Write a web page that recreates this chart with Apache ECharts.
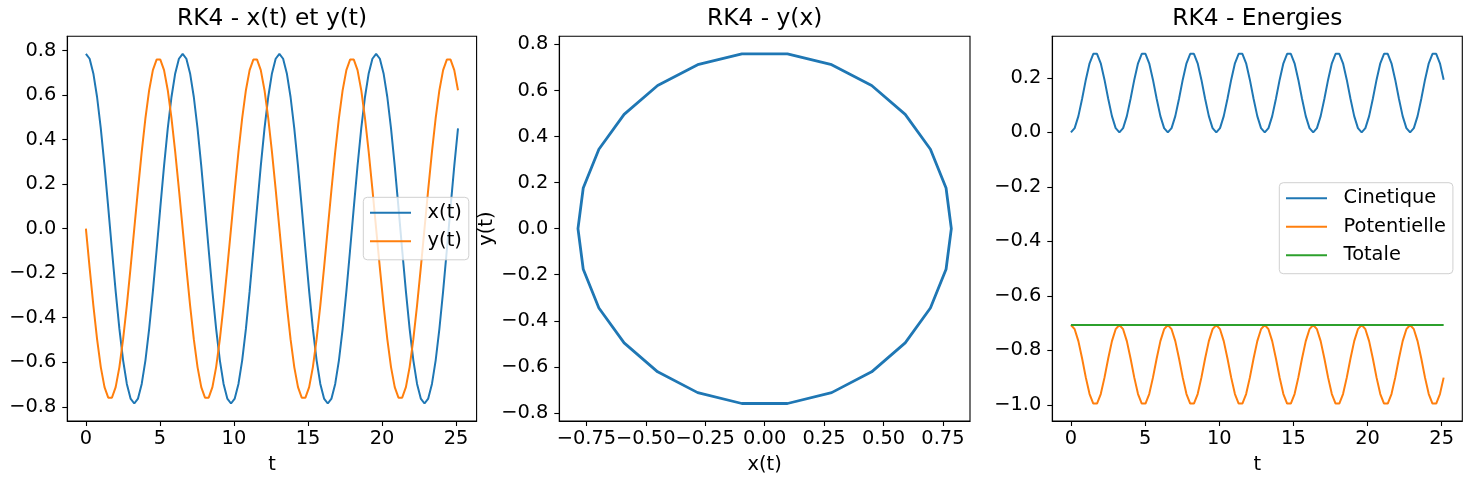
<!DOCTYPE html>
<html><head><meta charset="utf-8">
<script src="https://cdn.jsdelivr.net/npm/echarts@6/dist/echarts.min.js"></script>
<style>html,body{margin:0;padding:0;background:#fff}#c{width:1471px;height:484px}</style>
</head><body><div id="c"></div>
<script>
// time samples
const tVals = [
0, 0.2513, 0.5027, 0.7540, 1.0053, 1.2566, 1.5080, 1.7593, 2.0106, 2.2619, 2.5133, 2.7646, 3.0159, 3.2673, 3.5186, 3.7699, 4.0212, 4.2726, 4.5239, 4.7752, 5.0265, 5.2779, 5.5292, 5.7805, 6.0319, 6.2832,
6.5345, 6.7858, 7.0372, 7.2885, 7.5398, 7.7911, 8.0425, 8.2938, 8.5451, 8.7965, 9.0478, 9.2991, 9.5504, 9.8018, 10.0531, 10.3044, 10.5558, 10.8071, 11.0584, 11.3097, 11.5611, 11.8124, 12.0637, 12.3150, 12.5664, 12.8177,
13.0690, 13.3204, 13.5717, 13.8230, 14.0743, 14.3257, 14.5770, 14.8283, 15.0796, 15.3310, 15.5823, 15.8336, 16.0850, 16.3363, 16.5876, 16.8389, 17.0903, 17.3416, 17.5929, 17.8442, 18.0956, 18.3469, 18.5982, 18.8496, 19.1009, 19.3522,
19.6035, 19.8549, 20.1062, 20.3575, 20.6088, 20.8602, 21.1115, 21.3628, 21.6142, 21.8655, 22.1168, 22.3681, 22.6195, 22.8708, 23.1221, 23.3735, 23.6248, 23.8761, 24.1274, 24.3788, 24.6301, 24.8814, 25.1327
];
// x(t)
const xVals = [
0.7854, 0.7632, 0.6974, 0.5913, 0.4502, 0.2818, 0.0959, -0.0959, -0.2818, -0.4502, -0.5913, -0.6974, -0.7632, -0.7854, -0.7632, -0.6974, -0.5913, -0.4502, -0.2818, -0.0959, 0.0959, 0.2818, 0.4502, 0.5913, 0.6974, 0.7632,
0.7854, 0.7632, 0.6974, 0.5913, 0.4502, 0.2818, 0.0959, -0.0959, -0.2818, -0.4502, -0.5913, -0.6974, -0.7632, -0.7854, -0.7632, -0.6974, -0.5913, -0.4502, -0.2818, -0.0959, 0.0959, 0.2818, 0.4502, 0.5913, 0.6974, 0.7632,
0.7854, 0.7632, 0.6974, 0.5913, 0.4502, 0.2818, 0.0959, -0.0959, -0.2818, -0.4502, -0.5913, -0.6974, -0.7632, -0.7854, -0.7632, -0.6974, -0.5913, -0.4502, -0.2818, -0.0959, 0.0959, 0.2818, 0.4502, 0.5913, 0.6974, 0.7632,
0.7854, 0.7632, 0.6974, 0.5913, 0.4502, 0.2818, 0.0959, -0.0959, -0.2818, -0.4502, -0.5913, -0.6974, -0.7632, -0.7854, -0.7632, -0.6974, -0.5913, -0.4502, -0.2818, -0.0959, 0.0959, 0.2818, 0.4502
];
// y(t)
const yVals = [
0, -0.1763, -0.3446, -0.4962, -0.6218, -0.7120, -0.7593, -0.7593, -0.7120, -0.6218, -0.4962, -0.3446, -0.1763, 0, 0.1763, 0.3446, 0.4962, 0.6218, 0.7120, 0.7593, 0.7593, 0.7120, 0.6218, 0.4962, 0.3446, 0.1763,
0, -0.1763, -0.3446, -0.4962, -0.6218, -0.7120, -0.7593, -0.7593, -0.7120, -0.6218, -0.4962, -0.3446, -0.1763, 0, 0.1763, 0.3446, 0.4962, 0.6218, 0.7120, 0.7593, 0.7593, 0.7120, 0.6218, 0.4962, 0.3446, 0.1763,
0, -0.1763, -0.3446, -0.4962, -0.6218, -0.7120, -0.7593, -0.7593, -0.7120, -0.6218, -0.4962, -0.3446, -0.1763, 0, 0.1763, 0.3446, 0.4962, 0.6218, 0.7120, 0.7593, 0.7593, 0.7120, 0.6218, 0.4962, 0.3446, 0.1763,
0, -0.1763, -0.3446, -0.4962, -0.6218, -0.7120, -0.7593, -0.7593, -0.7120, -0.6218, -0.4962, -0.3446, -0.1763, 0, 0.1763, 0.3446, 0.4962, 0.6218, 0.7120, 0.7593, 0.7593, 0.7120, 0.6218
];
// kinetic energy
const ecVals = [
0, 0.0155, 0.0594, 0.1231, 0.1933, 0.2535, 0.2883, 0.2883, 0.2535, 0.1933, 0.1231, 0.0594, 0.0155, 0, 0.0155, 0.0594, 0.1231, 0.1933, 0.2535, 0.2883, 0.2883, 0.2535, 0.1933, 0.1231, 0.0594, 0.0155,
0, 0.0155, 0.0594, 0.1231, 0.1933, 0.2535, 0.2883, 0.2883, 0.2535, 0.1933, 0.1231, 0.0594, 0.0155, 0, 0.0155, 0.0594, 0.1231, 0.1933, 0.2535, 0.2883, 0.2883, 0.2535, 0.1933, 0.1231, 0.0594, 0.0155,
0, 0.0155, 0.0594, 0.1231, 0.1933, 0.2535, 0.2883, 0.2883, 0.2535, 0.1933, 0.1231, 0.0594, 0.0155, 0, 0.0155, 0.0594, 0.1231, 0.1933, 0.2535, 0.2883, 0.2883, 0.2535, 0.1933, 0.1231, 0.0594, 0.0155,
0, 0.0155, 0.0594, 0.1231, 0.1933, 0.2535, 0.2883, 0.2883, 0.2535, 0.1933, 0.1231, 0.0594, 0.0155, 0, 0.0155, 0.0594, 0.1231, 0.1933, 0.2535, 0.2883, 0.2883, 0.2535, 0.1933
];
// potential energy
const epVals = [
-0.7071, -0.7226, -0.7665, -0.8302, -0.9004, -0.9606, -0.9954, -0.9954, -0.9606, -0.9004, -0.8302, -0.7665, -0.7226, -0.7071, -0.7226, -0.7665, -0.8302, -0.9004, -0.9606, -0.9954, -0.9954, -0.9606, -0.9004, -0.8302, -0.7665, -0.7226,
-0.7071, -0.7226, -0.7665, -0.8302, -0.9004, -0.9606, -0.9954, -0.9954, -0.9606, -0.9004, -0.8302, -0.7665, -0.7226, -0.7071, -0.7226, -0.7665, -0.8302, -0.9004, -0.9606, -0.9954, -0.9954, -0.9606, -0.9004, -0.8302, -0.7665, -0.7226,
-0.7071, -0.7226, -0.7665, -0.8302, -0.9004, -0.9606, -0.9954, -0.9954, -0.9606, -0.9004, -0.8302, -0.7665, -0.7226, -0.7071, -0.7226, -0.7665, -0.8302, -0.9004, -0.9606, -0.9954, -0.9954, -0.9606, -0.9004, -0.8302, -0.7665, -0.7226,
-0.7071, -0.7226, -0.7665, -0.8302, -0.9004, -0.9606, -0.9954, -0.9954, -0.9606, -0.9004, -0.8302, -0.7665, -0.7226, -0.7071, -0.7226, -0.7665, -0.8302, -0.9004, -0.9606, -0.9954, -0.9954, -0.9606, -0.9004
];
// total energy
const etVals = [
-0.7071, -0.7071, -0.7071, -0.7071, -0.7071, -0.7071, -0.7071, -0.7071, -0.7071, -0.7071, -0.7071, -0.7071, -0.7071, -0.7071, -0.7071, -0.7071, -0.7071, -0.7071, -0.7071, -0.7071, -0.7071, -0.7071, -0.7071, -0.7071, -0.7071, -0.7071,
-0.7071, -0.7071, -0.7071, -0.7071, -0.7071, -0.7071, -0.7071, -0.7071, -0.7071, -0.7071, -0.7071, -0.7071, -0.7071, -0.7071, -0.7071, -0.7071, -0.7071, -0.7071, -0.7071, -0.7071, -0.7071, -0.7071, -0.7071, -0.7071, -0.7071, -0.7071,
-0.7071, -0.7071, -0.7071, -0.7071, -0.7071, -0.7071, -0.7071, -0.7071, -0.7071, -0.7071, -0.7071, -0.7071, -0.7071, -0.7071, -0.7071, -0.7071, -0.7071, -0.7071, -0.7071, -0.7071, -0.7071, -0.7071, -0.7071, -0.7071, -0.7071, -0.7071,
-0.7071, -0.7071, -0.7071, -0.7071, -0.7071, -0.7071, -0.7071, -0.7071, -0.7071, -0.7071, -0.7071, -0.7071, -0.7071, -0.7071, -0.7071, -0.7071, -0.7071, -0.7071, -0.7071, -0.7071, -0.7071, -0.7071, -0.7071
];
// tick values & labels
const tTicks = [0, 5, 10, 15, 20, 25];
const tTickLabels = ['0', '5', '10', '15', '20', '25'];
const posTicks = [-0.8, -0.6, -0.4, -0.2, 0, 0.2, 0.4, 0.6, 0.8];
const posTickLabels = ['\u22120.8', '\u22120.6', '\u22120.4', '\u22120.2', '0.0', '0.2', '0.4', '0.6', '0.8'];
const orbitXTicks = [-0.75, -0.5, -0.25, 0, 0.25, 0.5, 0.75];
const orbitXTickLabels = ['\u22120.75', '\u22120.50', '\u22120.25', '0.00', '0.25', '0.50', '0.75'];
const energyTicks = [-1.0, -0.8, -0.6, -0.4, -0.2, 0, 0.2];
const energyTickLabels = ['\u22121.0', '\u22120.8', '\u22120.6', '\u22120.4', '\u22120.2', '0.0', '0.2'];

const FONT = 'DejaVu Sans';
const FS = 19.4;
const C1 = '#1f77b4', C2 = '#ff7f0e', C3 = '#2ca02c';

function ext(...arrs) {
  let lo = Infinity, hi = -Infinity;
  arrs.forEach(a => a.forEach(v => { if (v < lo) lo = v; if (v > hi) hi = v; }));
  const m = 0.05 * (hi - lo);
  return [lo - m, hi + m];
}
function lbl(v, ticks, labels) {
  const i = ticks.findIndex(a => Math.abs(a - v) < 1e-9);
  return i >= 0 ? labels[i] : '';
}
function axis(kind, gridIndex, range, ticks, labels, extra) {
  return Object.assign({
    type: 'value', gridIndex, min: range[0], max: range[1],
    splitLine: { show: false },
    axisLine: { show: true, onZero: false, lineStyle: { color: '#000', width: 1.1 } },
    axisTick: { show: true, length: 5, customValues: ticks, lineStyle: { color: '#000', width: 1.1 } },
    axisLabel: { customValues: ticks, formatter: v => lbl(v, ticks, labels), color: '#000', fontFamily: FONT, fontSize: FS, margin: kind === 'x' ? 8.3 : 11 },
    nameTextStyle: { color: '#000', fontFamily: FONT, fontSize: FS }
  }, extra || {});
}
const pair = (a, b) => a.map((v, i) => [v, b[i]]);
const lineS = (name, data, color, xi, yi, w) => ({
  name, type: 'line', data, xAxisIndex: xi, yAxisIndex: yi, showSymbol: false, symbol: 'none',
  lineStyle: { color, width: w || 2 }, itemStyle: { color }, animation: false, clip: true
});
const gridBase = { top: 36.3, height: 384.7, show: true, borderColor: '#000', borderWidth: 1.1, containLabel: false };
const titleBase = (text, cx) => ({ text, left: cx, top: 7.5, padding: 0, textAlign: 'center',
  textStyle: { fontFamily: FONT, fontSize: 23.3, fontWeight: 'normal', color: '#000' } });
const legendBase = (data, left, top) => ({
  data, left, top, orient: 'vertical', icon: 'rect', itemWidth: 41, itemHeight: 2, itemGap: 8.5,
  backgroundColor: 'rgba(255,255,255,0.8)', borderColor: '#d0d0d0', borderWidth: 1, borderRadius: 4,
  padding: [5.5, 7, 8.5, 6.7], selectedMode: false,
  textStyle: { fontFamily: FONT, fontSize: FS, color: '#000', lineHeight: 20, padding: [0, 0, 0, 11.6] }
});

const tRange = ext(tVals);
const r1y = ext(xVals, yVals);
const r2x = ext(xVals);
const r2y = ext(yVals);
const r3y = ext(ecVals, epVals, etVals);

const chart = echarts.init(document.getElementById('c'), null, { renderer: 'canvas' });
chart.setOption({
  animation: false,
  backgroundColor: '#fff',
  title: [
    titleBase('RK4 - x(t) et y(t)', 272),
    titleBase('RK4 - y(x)', 764.7),
    titleBase('RK4 - Energies', 1257.3)
  ],
  legend: [
    legendBase(['x(t)', 'y(t)'], 363.3, 197.3),
    legendBase(['Cinetique', 'Potentielle', 'Totale'], 1279.3, 182.7)
  ],
  grid: [
    Object.assign({ left: 67.3, width: 409.3 }, gridBase),
    Object.assign({ left: 559.3, width: 410.7 }, gridBase),
    Object.assign({ left: 1052.3, width: 410 }, gridBase)
  ],
  xAxis: [
    axis('x', 0, tRange, tTicks, tTickLabels, { name: 't', nameLocation: 'middle', nameGap: 34 }),
    axis('x', 1, r2x, orbitXTicks, orbitXTickLabels, { name: 'x(t)', nameLocation: 'middle', nameGap: 34 }),
    axis('x', 2, tRange, tTicks, tTickLabels, { name: 't', nameLocation: 'middle', nameGap: 34 })
  ],
  yAxis: [
    axis('y', 0, r1y, posTicks, posTickLabels),
    axis('y', 1, r2y, posTicks, posTickLabels, { name: 'y(t)', nameLocation: 'middle', nameRotate: 90, nameGap: 62.8 }),
    axis('y', 2, r3y, energyTicks, energyTickLabels)
  ],
  series: [
    lineS('x(t)', pair(tVals, xVals), C1, 0, 0),
    lineS('y(t)', pair(tVals, yVals), C2, 0, 0),
    lineS('y(x)', pair(xVals, yVals), C1, 1, 1, 2.8),
    lineS('Cinetique', pair(tVals, ecVals), C1, 2, 2),
    lineS('Potentielle', pair(tVals, epVals), C2, 2, 2),
    lineS('Totale', pair(tVals, etVals), C3, 2, 2)
  ]
});
</script>
</body></html>
